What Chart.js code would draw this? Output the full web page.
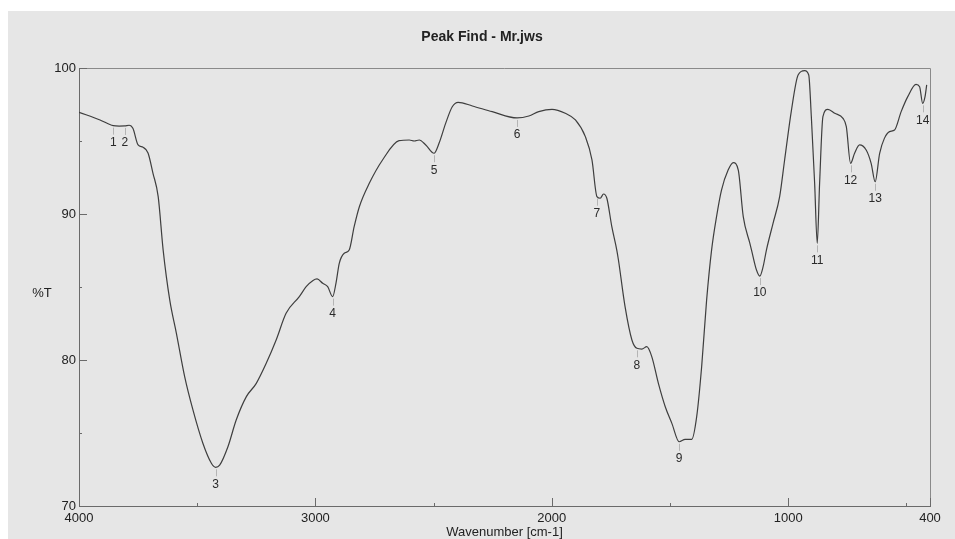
<!DOCTYPE html>
<html>
<head>
<meta charset="utf-8">
<script src="https://cdn.jsdelivr.net/npm/chart.js@4.4.1/dist/chart.umd.min.js"></script>
<style>
  html, body { margin: 0; padding: 0; background: #ffffff; }
  #paper { position: absolute; left: 8px; top: 11px; width: 947px; height: 528px; background: #e6e6e6; }
  #wrap { position: absolute; left: 0; top: 0; width: 955px; height: 539px; }
</style>
</head>
<body>
<div id="paper"></div>
<div id="wrap"><canvas id="ir"></canvas></div>
<script>
// IR spectrum: wavenumber (cm-1) and transmittance (%T)
const wavenumbers = [
  4000, 3911, 3855, 3830, 3806, 3788, 3772, 3750, 3729, 3708, 3687, 3665, 3644, 3616, 3588,
  3553, 3518, 3476, 3440, 3422, 3405, 3370, 3335, 3292, 3250, 3208, 3166, 3124, 3068, 3039,
  3010, 2993, 2969, 2948, 2927, 2913, 2899, 2878, 2857, 2836, 2814, 2772, 2716, 2646, 2603,
  2582, 2561, 2533, 2498, 2477, 2449, 2421, 2396, 2336, 2252, 2147, 2097, 2055, 1999, 1943,
  1900, 1858, 1830, 1809, 1795, 1781, 1767, 1746, 1725, 1718, 1690, 1661, 1640, 1619, 1598,
  1577, 1549, 1520, 1492, 1461, 1436, 1408, 1387, 1366, 1345, 1324, 1303, 1282, 1254, 1232,
  1211, 1190, 1162, 1155, 1134, 1120, 1106, 1092, 1064, 1036, 1015, 986, 958, 930, 913,
  902, 888, 877, 867, 853, 832, 803, 768, 754, 736, 719, 698, 670, 649, 632,
  613, 593, 571, 550, 522, 494, 459, 444, 431, 421, 414
];
const transmittance = [
  96.97, 96.44, 96.05, 96.02, 96.03, 96.08, 95.87, 94.73, 94.57, 94.18, 92.79, 91.19, 87.53, 84.10, 81.83,
  78.86, 76.58, 74.30, 72.93, 72.65, 72.80, 74.06, 75.89, 77.49, 78.40, 79.77, 81.37, 83.20, 84.34, 85.02,
  85.45, 85.55, 85.25, 85.02, 84.34, 85.25, 86.62, 87.31, 87.53, 89.13, 90.50, 92.10, 93.70, 95.02, 95.07,
  95.00, 95.07, 94.73, 94.16, 94.84, 96.21, 97.35, 97.65, 97.40, 97.01, 96.58, 96.71, 97.01, 97.17, 96.90,
  96.44, 95.30, 93.70, 91.19, 91.08, 91.37, 91.08, 89.13, 87.53, 86.85, 83.65, 81.37, 80.80, 80.75, 80.91,
  80.23, 78.40, 76.80, 75.66, 74.40, 74.57, 74.57, 76.12, 79.54, 84.10, 87.53, 89.82, 91.64, 93.01, 93.52,
  93.01, 89.82, 87.99, 87.53, 86.16, 85.75, 86.39, 87.53, 89.36, 91.19, 93.70, 97.12, 99.52, 99.82, 99.52,
  96.67, 92.10, 87.99, 92.10, 96.67, 97.17, 96.90, 96.55, 95.98, 93.47, 94.16, 94.73, 94.38, 93.47, 92.21,
  94.16, 95.18, 95.64, 95.75, 97.01, 98.04, 98.88, 98.72, 97.58, 98.04, 98.84
];

// Picked peaks
const peakNumbers = ['1', '2', '3', '4', '5', '6', '7', '8', '9', '10', '11', '12', '13', '14'];
const peakWavenumbers = [3855, 3806, 3422, 2927, 2498, 2147, 1809, 1640, 1461, 1120, 877, 736, 632, 431];
const peakTransmittance = [96.05, 96.03, 72.65, 84.34, 94.16, 96.58, 91.19, 80.80, 74.40, 85.75, 87.99, 93.47, 92.21, 97.58];

// Axis ticks
const xMajorTicks = [4000, 3000, 2000, 1000, 400];
const xMinorTicks = [3500, 2500, 1500, 500];
const yMajorTicks = [70, 80, 90, 100];
const yMinorTicks = [75, 85, 95];

const chartTitle = 'Peak Find - Mr.jws';
const xTitle = 'Wavenumber [cm-1]';
const yTitle = '%T';

const FONT = '"Liberation Sans", Arial, sans-serif';
const AXIS_COLOR = '#6a6a6a';

const spectrum = wavenumbers.map((w, i) => ({ x: w, y: transmittance[i] }));

const decorations = {
  id: 'decorations',
  afterDraw(chart) {
    const { ctx, chartArea: a, scales: { x, y } } = chart;
    ctx.save();

    // top and right frame
    ctx.strokeStyle = '#8a8a8a';
    ctx.lineWidth = 1;
    ctx.beginPath();
    ctx.moveTo(a.left, a.top + 0.5);
    ctx.lineTo(a.right + 0.5, a.top + 0.5);
    ctx.lineTo(a.right + 0.5, a.bottom);
    ctx.stroke();

    // inward tick marks
    ctx.strokeStyle = AXIS_COLOR;
    ctx.beginPath();
    xMajorTicks.forEach(v => { const px = Math.round(x.getPixelForValue(v)) + 0.5; ctx.moveTo(px, a.bottom); ctx.lineTo(px, a.bottom - 8); });
    xMinorTicks.forEach(v => { const px = Math.round(x.getPixelForValue(v)) + 0.5; ctx.moveTo(px, a.bottom); ctx.lineTo(px, a.bottom - 3); });
    yMajorTicks.forEach(v => { const py = Math.round(y.getPixelForValue(v)) + 0.5; ctx.moveTo(a.left, py); ctx.lineTo(a.left + 8, py); });
    yMinorTicks.forEach(v => { const py = Math.round(y.getPixelForValue(v)) + 0.5; ctx.moveTo(a.left, py); ctx.lineTo(a.left + 3, py); });
    ctx.stroke();

    // peak markers and numbers
    ctx.font = '12px ' + FONT;
    ctx.textAlign = 'center';
    ctx.textBaseline = 'middle';
    peakWavenumbers.forEach((w, i) => {
      const px = x.getPixelForValue(w);
      const py = y.getPixelForValue(peakTransmittance[i]);
      ctx.strokeStyle = 'rgba(120,120,120,0.45)';
      ctx.beginPath();
      ctx.moveTo(Math.round(px) + 0.5, py + 2);
      ctx.lineTo(Math.round(px) + 0.5, py + 9);
      ctx.stroke();
      ctx.fillStyle = '#2a2a2a';
      ctx.fillText(peakNumbers[i], px, py + 17);
    });

    // y axis title (horizontal)
    ctx.font = '13px ' + FONT;
    ctx.fillStyle = '#222';
    ctx.fillText(yTitle, 42, (a.top + a.bottom) / 2 + 6);

    // chart title
    ctx.font = 'bold 14px ' + FONT;
    ctx.fillText(chartTitle, 482, 37);
    ctx.restore();
  }
};

new Chart(document.getElementById('ir'), {
  type: 'line',
  data: {
    datasets: [{
      data: spectrum,
      borderColor: '#3e3e3e',
      borderWidth: 1.2,
      pointRadius: 0,
      fill: false,
      cubicInterpolationMode: 'monotone'
    }]
  },
  options: {
    responsive: true,
    maintainAspectRatio: false,
    animation: false,
    events: [],
    layout: { padding: { top: 68, right: 25, left: 0, bottom: 0 } },
    plugins: { legend: { display: false }, tooltip: { enabled: false }, title: { display: false } },
    scales: {
      x: {
        type: 'linear',
        reverse: true,
        min: 400,
        max: 4000,
        afterBuildTicks: s => { s.ticks = xMajorTicks.map(v => ({ value: v })); },
        afterFit: s => { s.height = 33; },
        grid: { display: false, drawTicks: false },
        border: { display: true, color: AXIS_COLOR, width: 1 },
        ticks: { padding: 5, maxRotation: 0, autoSkip: false, color: '#222', font: { family: FONT, size: 13 }, callback: v => String(v) },
        title: { display: true, text: xTitle, color: '#222', padding: 0, font: { family: FONT, size: 13, lineHeight: 1 } }
      },
      y: {
        min: 70,
        max: 100,
        afterBuildTicks: s => { s.ticks = yMajorTicks.map(v => ({ value: v })); },
        afterFit: s => { s.width = 79; },
        grid: { display: false, drawTicks: false },
        border: { display: true, color: AXIS_COLOR, width: 1 },
        ticks: { padding: 3, color: '#222', font: { family: FONT, size: 13 }, callback: v => String(v) }
      }
    }
  },
  plugins: [decorations]
});
</script>
</body>
</html>
